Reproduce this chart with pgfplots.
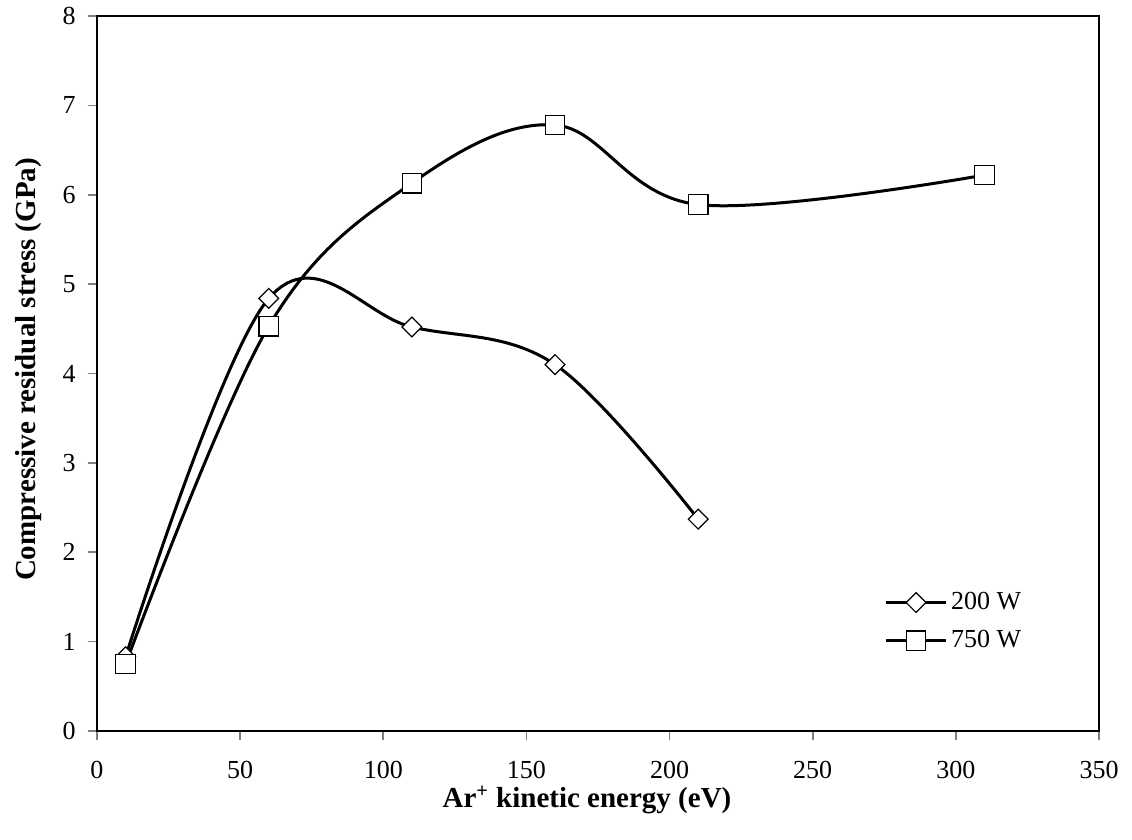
\documentclass[border=0pt]{standalone}
\usepackage{fontspec}
\setmainfont{Liberation Serif}
\usepackage{pgfplots}
\pgfplotsset{compat=1.18}
\begin{document}
\begin{tikzpicture}[x=1pt,y=1pt]
\path[use as bounding box] (-48.5,-54.5) rectangle (517.5,365.5);
\begin{axis}[
  at={(0,0)}, anchor=south west,
  width=501pt, height=357.5pt, scale only axis,
  xmin=0, xmax=350, ymin=0, ymax=8,
  xtick={0,50,...,350}, ytick={0,1,...,8},
  tick align=outside, tick pos=left,
  major tick length=4.5pt,
  every tick/.style={gray, line width=0.8pt},
  axis line style={line width=1pt},
  /pgf/number format/assume math mode=true,
  tick label style={font=\fontsize{13}{15}\selectfont},
  xticklabel style={yshift=-7pt},
  yticklabel style={xshift=-2.7pt},
  xlabel={\textbf{Ar\textsuperscript{+} kinetic energy (eV)}},
  ylabel={\textbf{Compressive residual stress (GPa)}},
  label style={font=\fontsize{14.5}{17}\selectfont},
  xlabel style={at={(0.5,0)}, anchor=north, yshift=-24pt, xshift=-5.5pt},
  ylabel style={at={(0,0.5)}, anchor=south, xshift=2pt, yshift=24pt},
  legend style={draw=none, fill=none, at={(0.786,0.2)}, anchor=north west,
    font=\fontsize{13}{15}\selectfont, row sep=5pt, inner sep=0pt,
    /tikz/every even column/.append style={column sep=4pt}},
  legend cell align=left,
  legend image code/.code={
    \draw[#1, mark=none] (0cm,0cm) -- (1.04cm,0cm);
    \draw[#1, only marks] plot coordinates {(0.52cm,0cm)};
  },
]
\addplot[black, line width=1.5pt, smooth, tension=0.6, mark=square*,
  mark size=3.5pt, mark options={fill=white, line width=0.6pt, rotate=45}]
  coordinates {(10,0.83) (60,4.84) (110,4.52) (160,4.10) (210,2.37)};
\addlegendentry{200 W}
\addplot[black, line width=1.5pt, smooth, tension=0.6, mark=square*,
  mark size=4.9pt, mark options={fill=white, line width=0.6pt}]
  coordinates {(10,0.75) (60,4.53) (110,6.13) (160,6.78) (210,5.89) (310,6.22)};
\addlegendentry{750 W}
\end{axis}
\end{tikzpicture}
\end{document}
